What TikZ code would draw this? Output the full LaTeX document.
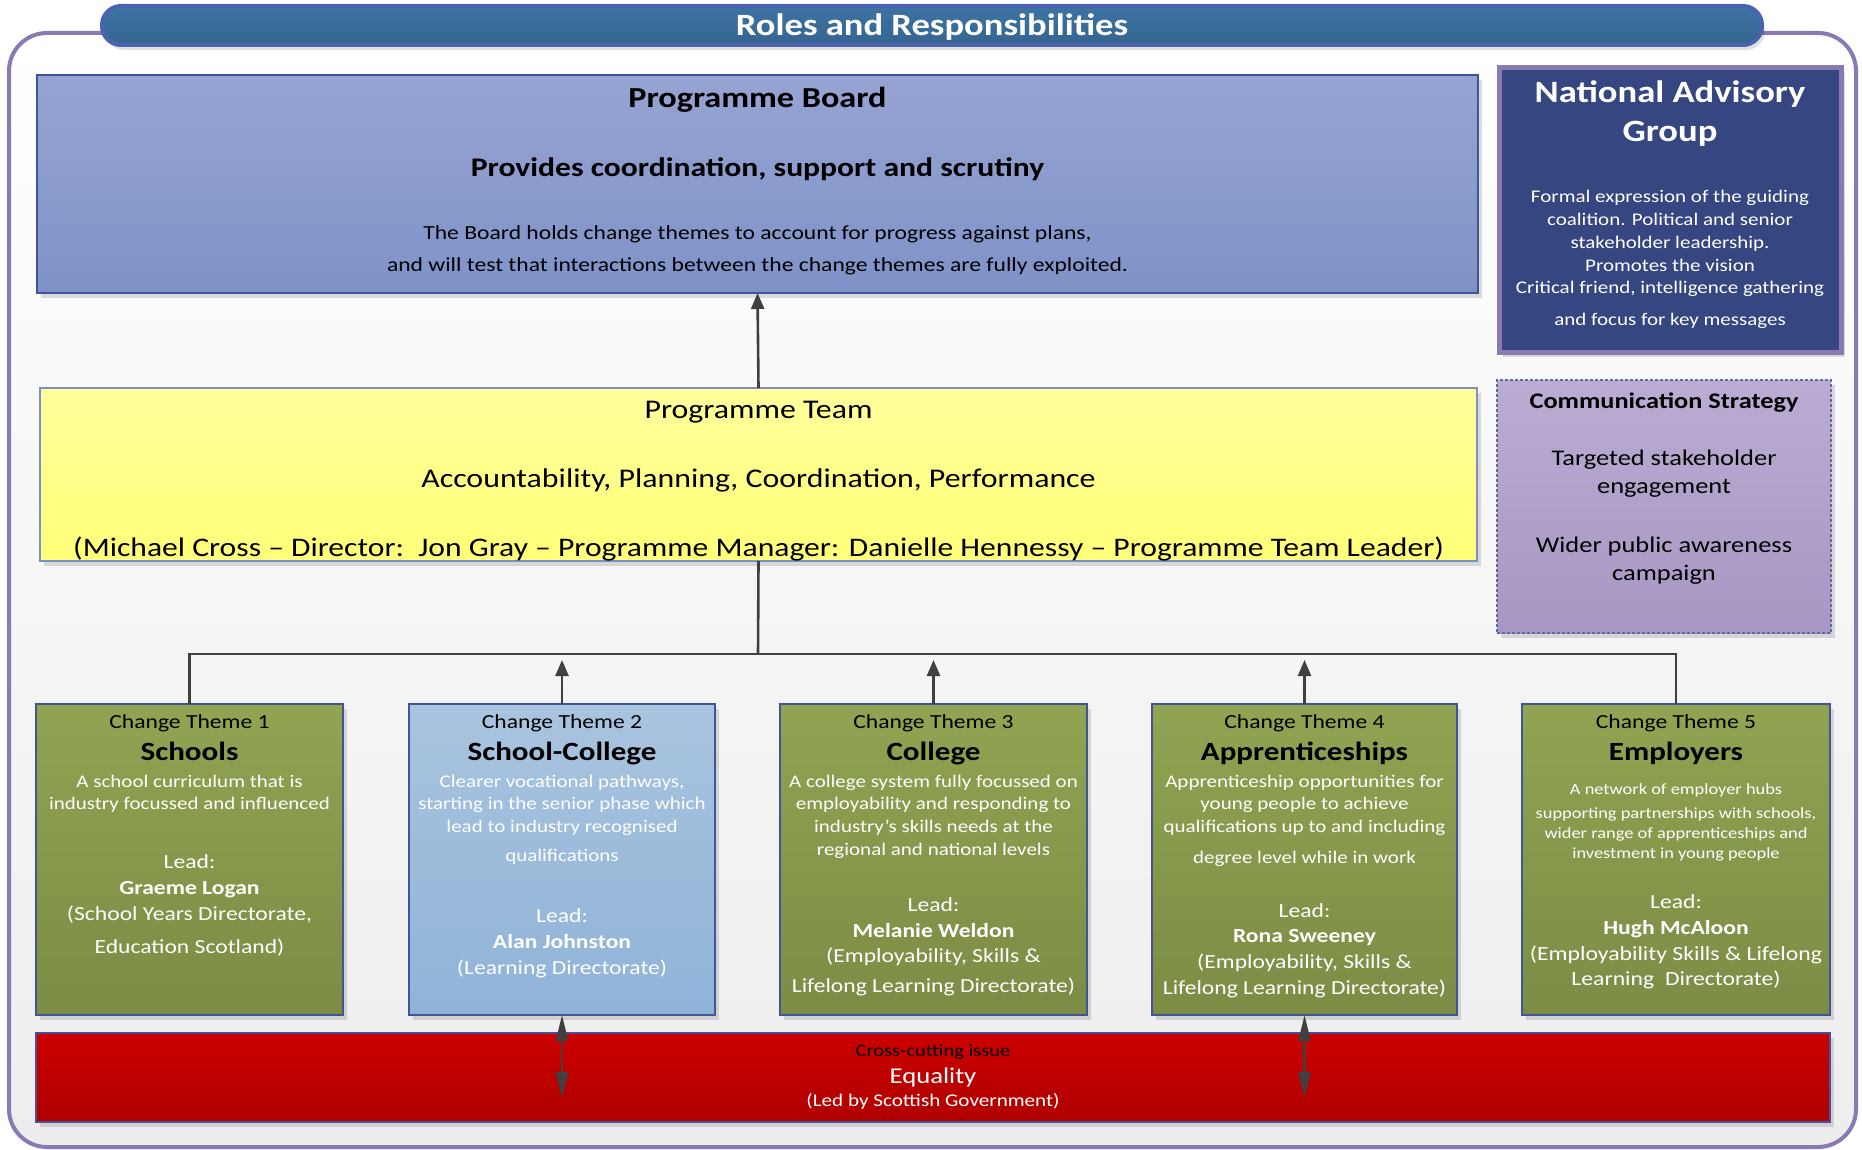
\documentclass[tikz,border=0pt]{standalone}
\usepackage{fontspec}
\setmainfont{Carlito}[FakeStretch=1.18]
\usetikzlibrary{arrows.meta,shadows}
\newcommand\myfs[1]{\fontsize{#1}{#1}\selectfont}
\definecolor{framec}{HTML}{8A7AB3}
\definecolor{bannerTop}{HTML}{3C73A4}
\definecolor{bannerBot}{HTML}{35658F}
\definecolor{bannerLine}{HTML}{4B62AF}
\definecolor{pbTop}{HTML}{96A4D2}
\definecolor{pbBot}{HTML}{7F92C8}
\definecolor{boxLine}{HTML}{3F5596}
\definecolor{nagFill}{HTML}{354680}
\definecolor{ptTop}{HTML}{FFFF9C}
\definecolor{ptBot}{HTML}{FFFF78}
\definecolor{ptLine}{HTML}{7B8FC4}
\definecolor{csTop}{HTML}{BAACD2}
\definecolor{csBot}{HTML}{A797C3}
\definecolor{csLine}{HTML}{5F68A8}
\definecolor{grTop}{HTML}{90A452}
\definecolor{grBot}{HTML}{7C8C45}
\definecolor{blTop}{HTML}{A9C4DF}
\definecolor{blBot}{HTML}{8FB3D8}
\definecolor{rdTop}{HTML}{CC0000}
\definecolor{rdBot}{HTML}{AF0000}
\definecolor{rdLine}{HTML}{4A4F99}
\definecolor{conncol}{HTML}{404040}
\begin{document}
\begin{tikzpicture}[x=1pt,y=-1pt,
  shd/.style={drop shadow={shadow xshift=4pt,shadow yshift=-5pt,opacity=0.13,fill=black}},
  boxbase/.style={inner sep=0pt,outer sep=0pt,shd},
  pbbox/.style={boxbase,draw=boxLine,line width=1.2pt,top color=pbTop,bottom color=pbBot},
  nagbox/.style={boxbase,draw=framec,line width=5pt,fill=nagFill},
  ptbox/.style={boxbase,draw=ptLine,line width=1.2pt,top color=ptTop,bottom color=ptBot},
  csbox/.style={boxbase,draw=csLine,line width=1.2pt,dash pattern=on 3pt off 2pt,top color=csTop,bottom color=csBot},
  grbox/.style={boxbase,draw=boxLine,line width=1.2pt,top color=grTop,bottom color=grBot,minimum width=307,minimum height=311},
  blbox/.style={boxbase,draw=boxLine,line width=1.2pt,top color=blTop,bottom color=blBot,minimum width=306,minimum height=311},
  rdbox/.style={boxbase,draw=rdLine,line width=1.2pt,top color=rdTop,bottom color=rdBot},
  t/.style={inner sep=0pt,anchor=base,align=center},
  w/.style={t,text=white},
  conn/.style={draw=conncol,line width=2.6pt},
  tipA/.style={-{Triangle[length=16pt,width=13pt]}},
  tipB/.style={{Triangle[length=26pt,width=12pt]}-{Triangle[length=26pt,width=12pt]}}
]
\useasboundingbox (0,0) rectangle (1862,1150);
% outer frame
\node[inner sep=0pt,draw=framec,line width=4pt,rounded corners=38pt,top color=white,bottom color=black!7,minimum width=1847,minimum height=1114] (frame) at (932.5,590) {};
% banner
\node[inner sep=0pt,draw=bannerLine,line width=4pt,rounded corners=19pt,top color=bannerTop,bottom color=bannerBot,minimum width=1660,minimum height=39,drop shadow={shadow xshift=3pt,shadow yshift=-5pt,opacity=0.12,fill=black}] (banner) at (932,25.5) {};
\node[w,font=\bfseries\myfs{31}] (title) at (932,36) {Roles and Responsibilities};

% Programme Board
\node[pbbox,minimum width=1441,minimum height=218] (pb) at (757.5,184) {};
\node[t,font=\bfseries\myfs{29}] (pbA) at (757.5,108) {Programme Board};
\node[t,font=\bfseries\myfs{26.8}] (pbB) at (757.5,177) {Provides coordination, support and scrutiny};
\node[t,font=\myfs{20}] (pbC) at (757.5,240) {The Board holds change themes to account for progress against plans,};
\node[t,font=\myfs{20}] (pbD) at (757.5,272) {and will test that interactions between the change themes are fully exploited.};

% National Advisory Group
\node[nagbox,minimum width=342,minimum height=284] (nag) at (1670,210) {};
\node[w,font=\bfseries\myfs{31}] (nagA) at (1670,103) {National Advisory};
\node[w,font=\bfseries\myfs{31}] (nagB) at (1670,142) {Group};
\node[w,font=\myfs{17.8}] (nagC) at (1670,203) {Formal expression of the guiding};
\node[w,font=\myfs{17.8}] (nagD) at (1670,226) {coalition. Political and senior};
\node[w,font=\myfs{17.8}] (nagE) at (1670,248) {stakeholder leadership.};
\node[w,font=\myfs{17.8}] (nagF) at (1670,272) {Promotes the vision};
\node[w,font=\myfs{17.8}] (nagG) at (1670,294) {Critical friend, intelligence gathering};
\node[w,font=\myfs{17.8}] (nagH) at (1670,325) {and focus for key messages};

% Programme Team
\node[ptbox,minimum width=1437,minimum height=173] (pt) at (758.5,474.5) {};
\node[t,font=\myfs{27}] (ptA) at (758.5,418) {Programme Team};
\node[t,font=\myfs{27}] (ptB) at (758.5,487) {Accountability, Planning, Coordination, Performance};
\node[t,font=\myfs{26.8}] (ptC) at (758.5,556) {(Michael Cross -- Director:\ \ Jon Gray -- Programme Manager: Danielle Hennessy -- Programme Team Leader)};

% Communication Strategy
\node[csbox,minimum width=334,minimum height=253] (cs) at (1664,506.5) {};
\node[t,font=\bfseries\myfs{22.3}] (csA) at (1664,408) {Communication Strategy};
\node[t,font=\myfs{22.4}] (csB) at (1664,465) {Targeted stakeholder};
\node[t,font=\myfs{22.4}] (csC) at (1664,493) {engagement};
\node[t,font=\myfs{22.4}] (csD) at (1664,552) {Wider public awareness};
\node[t,font=\myfs{22.4}] (csE) at (1664,580) {campaign};

% Change themes
\node[grbox] (t1) at (189.5,859.5) {};
\node[blbox] (t2) at (562,859.5) {};
\node[grbox] (t3) at (933.5,859.5) {};
\node[grbox,minimum width=305] (t4) at (1304.5,859.5) {};
\node[grbox,minimum width=308] (t5) at (1676,859.5) {};

% Theme 1
\node[t,font=\myfs{20}] (t1a) at (189.5,728) {Change Theme 1};
\node[t,font=\bfseries\myfs{26.3}] (t1b) at (189.5,760) {Schools};
\node[w,font=\myfs{17.8}] (t1c) at (189.5,787) {A school curriculum that is};
\node[w,font=\myfs{17.8}] (t1d) at (189.5,809) {industry focussed and influenced};
\node[w,font=\myfs{20}] (t1e) at (189.5,868) {Lead:};
\node[w,font=\bfseries\myfs{20}] (t1f) at (189.5,894) {Graeme Logan};
\node[w,font=\myfs{20}] (t1g) at (189.5,920) {(School Years Directorate,};
\node[w,font=\myfs{20}] (t1h) at (189.5,953) {Education Scotland)};

% Theme 2
\node[t,font=\myfs{20}] (t2a) at (562,728) {Change Theme 2};
\node[t,font=\bfseries\myfs{26.3}] (t2b) at (562,760) {School-College};
\node[w,font=\myfs{17.8}] (t2c) at (562,787) {Clearer vocational pathways,};
\node[w,font=\myfs{17.8}] (t2d) at (562,809) {starting in the senior phase which};
\node[w,font=\myfs{17.8}] (t2e) at (562,832) {lead to industry recognised};
\node[w,font=\myfs{17.8}] (t2f) at (562,861) {qualifications};
\node[w,font=\myfs{20}] (t2g) at (562,922) {Lead:};
\node[w,font=\bfseries\myfs{20}] (t2h) at (562,948) {Alan Johnston};
\node[w,font=\myfs{20}] (t2i) at (562,974) {(Learning Directorate)};

% Theme 3
\node[t,font=\myfs{20}] (t3a) at (933.5,728) {Change Theme 3};
\node[t,font=\bfseries\myfs{26.3}] (t3b) at (933.5,760) {College};
\node[w,font=\myfs{17.8}] (t3c) at (933.5,787) {A college system fully focussed on};
\node[w,font=\myfs{17.8}] (t3d) at (933.5,809) {employability and responding to};
\node[w,font=\myfs{17.8}] (t3e) at (933.5,832) {industry’s skills needs at the};
\node[w,font=\myfs{17.8}] (t3f) at (933.5,855) {regional and national levels};
\node[w,font=\myfs{20}] (t3g) at (933.5,911) {Lead:};
\node[w,font=\bfseries\myfs{20}] (t3h) at (933.5,937) {Melanie Weldon};
\node[w,font=\myfs{20}] (t3i) at (933.5,962) {(Employability, Skills \&};
\node[w,font=\myfs{20}] (t3j) at (933.5,992) {Lifelong Learning Directorate)};

% Theme 4
\node[t,font=\myfs{20}] (t4a) at (1304.5,728) {Change Theme 4};
\node[t,font=\bfseries\myfs{26.3}] (t4b) at (1304.5,760) {Apprenticeships};
\node[w,font=\myfs{17.8}] (t4c) at (1304.5,787) {Apprenticeship opportunities for};
\node[w,font=\myfs{17.8}] (t4d) at (1304.5,809) {young people to achieve};
\node[w,font=\myfs{17.8}] (t4e) at (1304.5,832) {qualifications up to and including};
\node[w,font=\myfs{17.8}] (t4f) at (1304.5,863) {degree level while in work};
\node[w,font=\myfs{20}] (t4g) at (1304.5,917) {Lead:};
\node[w,font=\bfseries\myfs{20}] (t4h) at (1304.5,942) {Rona Sweeney};
\node[w,font=\myfs{20}] (t4i) at (1304.5,968) {(Employability, Skills \&};
\node[w,font=\myfs{20}] (t4j) at (1304.5,994) {Lifelong Learning Directorate)};

% Theme 5
\node[t,font=\myfs{20}] (t5a) at (1676,728) {Change Theme 5};
\node[t,font=\bfseries\myfs{26.3}] (t5b) at (1676,760) {Employers};
\node[w,font=\myfs{15.6}] (t5c) at (1676,794) {A network of employer hubs};
\node[w,font=\myfs{15.6}] (t5d) at (1676,818) {supporting partnerships with schools,};
\node[w,font=\myfs{15.6}] (t5e) at (1676,838) {wider range of apprenticeships and};
\node[w,font=\myfs{15.6}] (t5f) at (1676,858) {investment in young people};
\node[w,font=\myfs{20}] (t5g) at (1676,908) {Lead:};
\node[w,font=\bfseries\myfs{20}] (t5h) at (1676,934) {Hugh McAloon};
\node[w,font=\myfs{20.1}] (t5i) at (1676,960) {(Employability Skills \& Lifelong};
\node[w,font=\myfs{20.1}] (t5j) at (1676,985) {Learning\ \ Directorate)};

% Equality bar
\node[rdbox,minimum width=1794,minimum height=89] (eq) at (933,1077.5) {};
\node[t,font=\myfs{17.4}] (eqA) at (933,1056) {Cross-cutting issue};
\node[w,font=\myfs{22.6}] (eqB) at (933,1083) {Equality};
\node[w,font=\myfs{17.9}] (eqC) at (933,1106) {(Led by Scottish Government)};

% connectors
\coordinate (junc) at (758,654);
\coordinate (tipline) at (0,660);
\coordinate (dblend) at (0,1098);
\draw[conn,tipA] (pt.north) -- (pb.south);
\draw[conn] (pt.south) -- (junc);
\draw[conn] (t1.north) -- (t1.north |- junc) -- (t5.north |- junc) -- (t5.north);
\draw[conn,tipA] (t2.north) -- (t2.north |- tipline);
\draw[conn,tipA] (t3.north) -- (t3.north |- tipline);
\draw[conn,tipA] (t4.north) -- (t4.north |- tipline);
\draw[conn,tipB] (t2.south) -- (t2.south |- dblend);
\draw[conn,tipB] (t4.south) -- (t4.south |- dblend);
\end{tikzpicture}
\end{document}
